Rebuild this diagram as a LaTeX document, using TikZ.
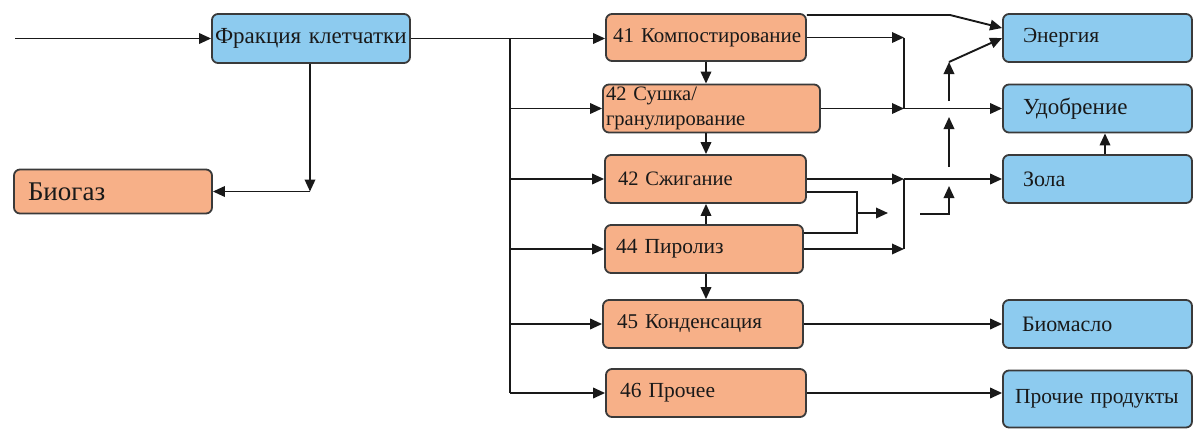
\documentclass[tikz,border=0pt]{standalone}
\usepackage{fontspec}
\setmainfont{Liberation Serif}
\usetikzlibrary{arrows.meta,calc}

\definecolor{peach}{HTML}{F7B088}
\definecolor{sky}{HTML}{8DCBEF}
\definecolor{edge}{HTML}{3A3A3A}

\tikzset{
  box/.style={draw=edge, line width=1.8pt, rounded corners=6pt, align=left,
    inner ysep=0pt, font=\fontsize{22}{24}\selectfont, text=black!90},
  obox/.style={box, fill=peach},
  bbox/.style={box, fill=sky},
  arr/.style={line width=1.9pt, draw=black!90, -{Triangle[length=12pt,width=10.5pt]}},
  ln/.style={line width=1.9pt, draw=black!90}
}

\begin{document}
\begin{tikzpicture}[x=1pt,y=-1pt]
\useasboundingbox (0,0) rectangle (1194,429);

% source and main fraction
\node[bbox, minimum width=198, minimum height=49, text width=192, inner xsep=3, font=\fontsize{23}{25}\selectfont] (frac) at (311,38.5) {\mbox{Фракция клетчатки}};
\node[obox, minimum width=198, minimum height=44, text width=170, inner xsep=14, font=\fontsize{27}{29}\selectfont] (biogas) at (113,191.5) {Биогаз};

% treatment steps
\node[obox, minimum width=200, minimum height=47, text width=186, inner xsep=7, font=\fontsize{21}{23}\selectfont] (c41) at (706,37.5) {\mbox{41 Компостирование}};
\node[obox, minimum width=217, minimum height=48, text width=211, inner xsep=3, font=\fontsize{20.5}{25}\selectfont] (c42a) at (711.5,108.5) {42 Сушка/\\гранулирование};
\node[obox, minimum width=201, minimum height=48, text width=175, inner xsep=13, font=\fontsize{20.5}{23}\selectfont] (c42b) at (705.5,179) {42 Сжигание};
\node[obox, minimum width=198, minimum height=48, text width=176, inner xsep=11, font=\fontsize{21.5}{23}\selectfont] (c44) at (704,249) {44 Пиролиз};
\node[obox, minimum width=200, minimum height=48, text width=172, inner xsep=14, font=\fontsize{21}{23}\selectfont] (c45) at (703,324) {45 Конденсация};
\node[obox, minimum width=200, minimum height=48, text width=172, inner xsep=14, font=\fontsize{21.5}{23}\selectfont] (c46) at (706,393) {46 Прочее};

% products
\node[bbox, minimum width=189, minimum height=48, text width=149, inner xsep=20, font=\fontsize{21.5}{23}\selectfont] (en) at (1097.5,38) {Энергия};
\node[bbox, minimum width=189, minimum height=48, text width=149, inner xsep=20, font=\fontsize{23}{25}\selectfont] (ud) at (1097.5,108.5) {Удобрение};
\node[bbox, minimum width=189, minimum height=48, text width=149, inner xsep=20] (zo) at (1097.5,179) {Зола};
\node[bbox, minimum width=189, minimum height=48, text width=151, inner xsep=19] (bm) at (1097.5,324) {Биомасло};
\node[bbox, minimum width=189, minimum height=57, text width=165, inner xsep=12, font=\fontsize{21.5}{23}\selectfont] (pp) at (1097.5,399) {\mbox{Прочие продукты}};

% helper points
\coordinate (in) at (15,38.5);
\coordinate (ttop) at (510,38.5);
\coordinate (tbot) at (510,393);
\coordinate (bend) at (310,191.5);
\coordinate (k1) at (950,15);
\coordinate (j1) at (904,37.5);
\coordinate (j2) at (904,179);
\coordinate (u1a) at (949,101);
\coordinate (u1b) at (949,62);
\coordinate (u2a) at (949,167);
\coordinate (u2b) at (949,117);
\coordinate (u3a) at (920,214);
\coordinate (u3b) at (949,214);
\coordinate (u3c) at (949,186);
\coordinate (br) at (857,192);
\coordinate (bro) at (888,213);
\coordinate (zx) at (1105,0);

% feed line and distribution trunk
\draw[arr] (in) -- (frac.west);
\draw[arr] (frac.east) -- (frac.east -| c41.west);
\draw[ln] (ttop) -- (tbot);
\draw[arr] (ttop |- c42a) -- (c42a.west);
\draw[arr] (ttop |- c42b) -- (c42b.west);
\draw[arr] (ttop |- c44) -- (c44.west);
\draw[arr] (ttop |- c45) -- (c45.west);
\draw[arr] (tbot) -- (c46.west);

% biogas branch
\draw[arr] (frac.south -| bend) -- (bend);
\draw[arr] (bend) -- (biogas.east);

% links between steps
\draw[arr] (c41.south) -- (c41.south |- c42a.north);
\draw[arr] (c41.south |- c42a.south) -- (c41.south |- c42b.north);
\draw[arr] (c41.south |- c44.north) -- (c41.south |- c42b.south);
\draw[arr] (c41.south |- c44.south) -- (c41.south |- c45.north);

% energy and fertiliser
\draw[arr] (k1 -| c41.east) -- (k1) -- ($(en.west)+(0,-10)$);
\draw[arr] (c41.east) -- (j1);
\draw[ln] (j1) -- (j1 |- ud.west);
\draw[arr] (c42a.east) -- (j1 |- c42a.east);
\draw[arr] (j1 |- ud.west) -- (ud.west);
\draw[arr] (u1a) -- (u1b);
\draw[arr] (u1b) -- (en.west);
\draw[arr] (u2a) -- (u2b);

% ash
\draw[arr] (c42b.east) -- (j2);
\draw[arr] (j2) -- (zo.west);
\draw[ln] (j2) -- (j2 |- c44.east);
\draw[arr] (c44.east) -- (j2 |- c44.east);
\draw[arr] (u3a) -- (u3b) -- (u3c);
\draw[arr] (zx |- zo.north) -- (zx |- ud.south);

% combustion / pyrolysis bracket
\draw[ln] (br -| c42b.east) -- (br) -- ($(br)+(0,41)$) -- ($(br -| c44.east)+(0,41)$);
\draw[arr] (bro -| br) -- (bro);

% oil and other products
\draw[arr] (c45.east) -- (bm.west);
\draw[arr] (c46.east) -- (c46.east -| pp.west);
\end{tikzpicture}
\end{document}
